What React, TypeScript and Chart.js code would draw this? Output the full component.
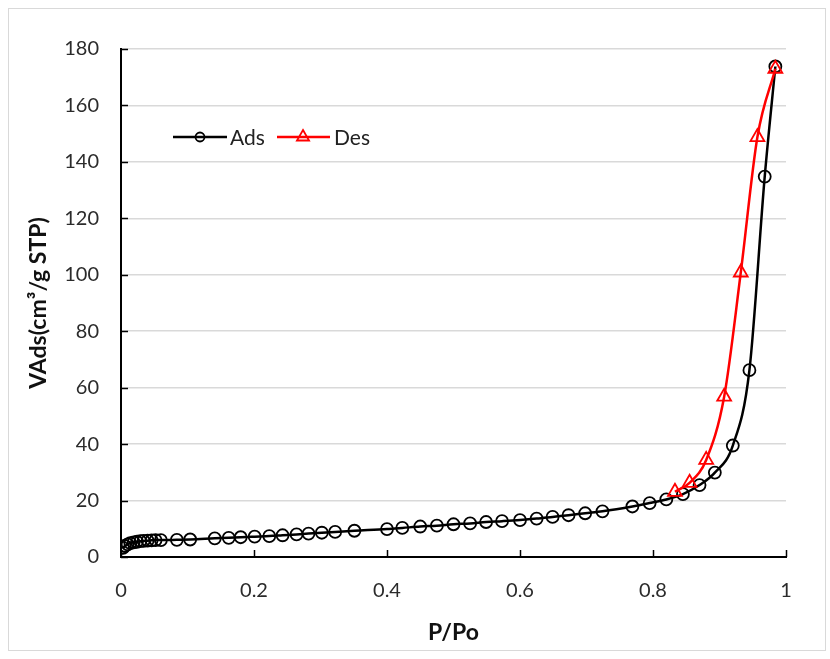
import { useEffect, useRef } from "react";
import { Chart, registerables } from "chart.js";
Chart.register(...registerables);

// ---- data ----
const ADS_P = [0.003, 0.006, 0.010, 0.014, 0.019, 0.024, 0.029, 0.034, 0.040, 0.046, 0.052, 0.060, 0.084, 0.104, 0.141, 0.162, 0.180, 0.201, 0.223, 0.243, 0.264, 0.282, 0.302, 0.322, 0.351, 0.400, 0.423, 0.450, 0.475, 0.500, 0.525, 0.549, 0.573, 0.600, 0.625, 0.649, 0.673, 0.698, 0.724, 0.769, 0.795, 0.820, 0.845, 0.870, 0.893, 0.920, 0.945, 0.968, 0.984];
const ADS_V = [3.2, 3.9, 4.5, 4.9, 5.2, 5.4, 5.6, 5.7, 5.8, 5.9, 6.0, 6.0, 6.1, 6.2, 6.6, 6.8, 7.0, 7.2, 7.4, 7.7, 8.0, 8.3, 8.6, 8.9, 9.3, 9.9, 10.3, 10.8, 11.1, 11.6, 11.9, 12.4, 12.7, 13.1, 13.6, 14.2, 14.8, 15.5, 16.2, 17.9, 19.1, 20.4, 22.3, 25.5, 29.9, 39.5, 66.2, 134.8, 173.8];
const DES_P = [0.833, 0.855, 0.880, 0.907, 0.932, 0.957, 0.984];
const DES_V = [23.1, 26.3, 34.4, 56.8, 100.8, 148.8, 173.0];
const SERIES_NAMES = ["Ads", "Des"];
const X_TICKS = [0, 0.2, 0.4, 0.6, 0.8, 1];
const Y_TICKS = [0, 20, 40, 60, 80, 100, 120, 140, 160, 180];
const X_TITLE = "P/Po";
const Y_TITLE = "VAds(cm³/g STP)";

const FONT = "Lato";
const RED = "#ff0000";
const BLACK = "#000000";

const overlay = {
  id: "overlay",
  afterDraw(chart: any) {
    const { ctx, chartArea, scales } = chart;
    ctx.save();
    // inward tick marks
    ctx.strokeStyle = BLACK;
    ctx.lineWidth = 1.5;
    Y_TICKS.forEach((v) => {
      const y = Math.round(scales.y.getPixelForValue(v)) + 0.5;
      ctx.beginPath();
      ctx.moveTo(chartArea.left, y);
      ctx.lineTo(chartArea.left + 7, y);
      ctx.stroke();
    });
    X_TICKS.forEach((v) => {
      const x = Math.round(scales.x.getPixelForValue(v)) + 0.5;
      ctx.beginPath();
      ctx.moveTo(x, chartArea.bottom);
      ctx.lineTo(x, chartArea.bottom - 7);
      ctx.stroke();
    });
    // legend (line + marker, Excel style)
    const ly = 137;
    let lx = chartArea.left + 52;
    ctx.font = `21px ${FONT}`;
    ctx.textBaseline = "middle";
    ctx.textAlign = "left";
    // Ads
    ctx.strokeStyle = BLACK;
    ctx.lineWidth = 2.5;
    ctx.beginPath();
    ctx.moveTo(lx, ly);
    ctx.lineTo(lx + 54, ly);
    ctx.stroke();
    ctx.lineWidth = 1.8;
    ctx.beginPath();
    ctx.arc(lx + 27, ly, 4.5, 0, Math.PI * 2);
    ctx.stroke();
    ctx.fillStyle = "#222222";
    ctx.fillText(SERIES_NAMES[0], lx + 57, ly + 1);
    // Des
    lx = lx + 104;
    ctx.strokeStyle = RED;
    ctx.lineWidth = 2.5;
    ctx.beginPath();
    ctx.moveTo(lx, ly);
    ctx.lineTo(lx + 53, ly);
    ctx.stroke();
    ctx.lineWidth = 1.8;
    const cx = lx + 26;
    const r = 7;
    ctx.beginPath();
    ctx.moveTo(cx, ly - r);
    ctx.lineTo(cx + r * 0.866, ly + r * 0.5);
    ctx.lineTo(cx - r * 0.866, ly + r * 0.5);
    ctx.closePath();
    ctx.stroke();
    ctx.fillStyle = "#222222";
    ctx.fillText(SERIES_NAMES[1], lx + 57, ly + 1);
    ctx.restore();
  },
};

export default function App() {
  const ref = useRef<HTMLCanvasElement>(null);
  useEffect(() => {
    if (!ref.current) return;
    const chart = new Chart(ref.current, {
      type: "line",
      data: {
        datasets: [
          {
            label: SERIES_NAMES[0],
            data: ADS_P.map((p, i) => ({ x: p, y: ADS_V[i] })),
            borderColor: BLACK,
            borderWidth: 2.5,
            pointStyle: "circle",
            pointRadius: 6,
            pointBorderWidth: 1.8,
            pointBorderColor: BLACK,
            pointBackgroundColor: "rgba(0,0,0,0)",
            tension: 0.4,
            cubicInterpolationMode: "monotone",
            fill: false,
            order: 1,
          },
          {
            label: SERIES_NAMES[1],
            data: DES_P.map((p, i) => ({ x: p, y: DES_V[i] })),
            borderColor: RED,
            borderWidth: 2.5,
            pointStyle: "triangle",
            pointRadius: 8,
            pointBorderWidth: 1.8,
            pointBorderColor: RED,
            pointBackgroundColor: "rgba(0,0,0,0)",
            tension: 0.4,
            cubicInterpolationMode: "monotone",
            fill: false,
            order: 0,
          },
        ],
      },
      options: {
        responsive: false,
        animation: false,
        devicePixelRatio: 1,
        layout: { padding: { left: 0, top: 49, right: 44, bottom: 0 } },
        plugins: { legend: { display: false }, tooltip: { enabled: false } },
        scales: {
          x: {
            type: "linear",
            min: 0,
            max: 1,
            afterBuildTicks: (s: any) => {
              s.ticks = X_TICKS.map((v) => ({ value: v }));
            },
            afterFit: (s: any) => {
              s.height = 102;
            },
            ticks: {
              padding: 22,
              color: "#2b2b2b",
              font: { family: FONT, size: 20 },
              callback: (v: any) => String(Number(Number(v).toFixed(1))),
            },
            grid: { display: false, drawTicks: false },
            border: { display: true, color: BLACK, width: 2 },
            title: {
              display: true,
              text: X_TITLE,
              color: "#111111",
              font: { family: FONT, size: 23, weight: "bold" },
              padding: { top: 0, bottom: 13 },
            },
          },
          y: {
            type: "linear",
            min: 0,
            max: 180,
            afterBuildTicks: (s: any) => {
              s.ticks = Y_TICKS.map((v) => ({ value: v }));
            },
            afterFit: (s: any) => {
              s.width = 121;
            },
            ticks: {
              padding: 22,
              color: "#2b2b2b",
              font: { family: FONT, size: 20 },
            },
            grid: {
              drawTicks: false,
              lineWidth: 1.5,
              color: (c: any) => (c.tick && c.tick.value === 0 ? "rgba(0,0,0,0)" : "#d9d9d9"),
            },
            border: { display: true, color: BLACK, width: 2 },
            title: {
              display: true,
              text: Y_TITLE,
              color: "#111111",
              font: { family: FONT, size: 23, weight: "bold" },
              padding: { top: 25, bottom: 0 },
            },
          },
        },
      },
      plugins: [overlay],
    } as any);
    return () => chart.destroy();
  }, []);

  return (
    <>
      <div
        style={{
          position: "fixed",
          left: 8,
          top: 8,
          width: 818,
          height: 643,
          border: "1px solid #d9d9d9",
          boxSizing: "border-box",
          background: "#ffffff",
        }}
      />
      <canvas
        ref={ref}
        width={830}
        height={659}
        style={{ position: "fixed", left: 0, top: 0, width: 830, height: 659 }}
      />
    </>
  );
}
